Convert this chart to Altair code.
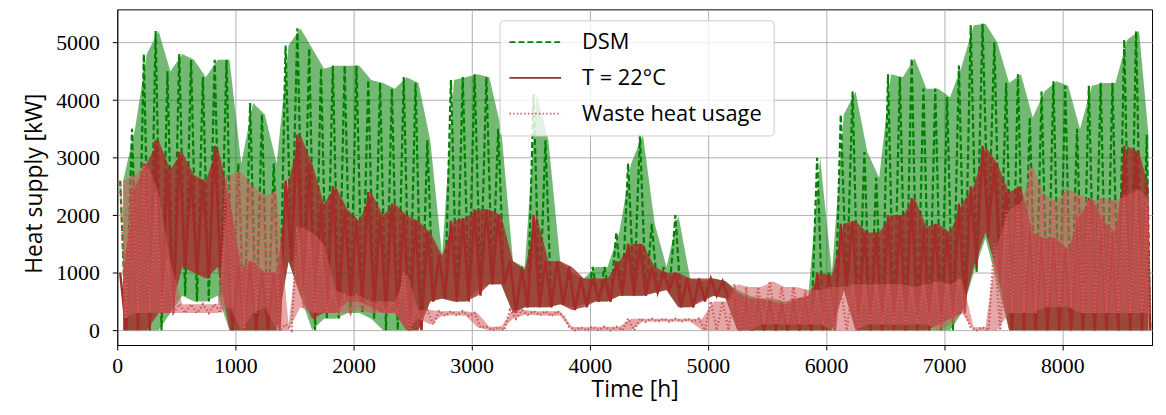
import altair as alt
import pandas as pd

# ---- data (100 h bins: upper / lower envelope of the daily swings) ----
BIN_START = list(range(0, 8760, 100))          # 88 bins
BIN_WIDTH = [100] * 87 + [60]

DSM_HI = [2600, 3500, 4800, 5200, 4500, 4800, 4700, 4400, 4700, 4700,
          2900, 3950, 3750, 2900, 4950, 5250, 4900, 4550, 4600, 4600,
          4600, 4350, 4300, 4200, 4400, 4300, 3300, 1300, 4350, 4400,
          4450, 4400, 3500, 1200, 1100, 4100, 3300, 1200, 1000, 900,
          1100, 1100, 1700, 2900, 3400, 1850, 1100, 2000, 900, 850,
          900, 850, 700, 600, 550, 550, 500, 550, 600, 3000,
          1000, 3750, 4150, 3100, 2650, 4450, 4400, 4730, 4200, 4200,
          4050, 4600, 5300, 5330, 5000, 4300, 4450, 3700, 4150, 4330,
          4250, 3500, 4250, 4300, 4300, 5050, 5200, 3400]
DSM_LO = [0, 0, 0, 0, 300, 600, 500, 500, 600, 0,
          0, 0, 0, 0, 1200, 600, 0, 200, 200, 300,
          300, 200, 0, 0, 0, 0, 500, 550, 500, 500,
          700, 800, 800, 300, 400, 400, 400, 450, 400, 450,
          500, 500, 600, 600, 600, 650, 700, 400, 400, 550,
          600, 550, 0, 0, 0, 0, 0, 0, 0, 0,
          0, 700, 0, 0, 0, 0, 0, 0, 0, 0,
          0, 300, 1000, 1600, 800, 0, 0, 0, 0, 0,
          0, 0, 0, 0, 0, 0, 0, 0]
T22_HI = [1000, 2500, 2900, 3300, 2800, 3100, 2700, 2600, 3200, 2300,
          1100, 1200, 1000, 1000, 2600, 3400, 2900, 2200, 2500, 2100,
          1900, 2400, 2000, 2200, 2000, 1900, 1700, 1300, 1900, 1950,
          2100, 2100, 2000, 1200, 1050, 2000, 1200, 1200, 1100, 900,
          900, 900, 1200, 1500, 1500, 1100, 1000, 1000, 900, 900,
          900, 850, 650, 550, 550, 500, 450, 550, 600, 1000,
          950, 1850, 1900, 1700, 1700, 2000, 2000, 2300, 1800, 1850,
          1700, 2200, 2500, 3200, 2900, 2400, 2500, 1700, 1600, 1600,
          1400, 2000, 2300, 1900, 1700, 3200, 3100, 2500]
T22_LO = [0, 0, 0, 300, 300, 1100, 1000, 900, 1100, 0,
          0, 0, 0, 0, 1200, 600, 200, 300, 300, 500,
          500, 400, 300, 300, 0, 0, 500, 550, 500, 500,
          600, 800, 800, 300, 400, 400, 400, 450, 350, 400,
          500, 500, 600, 600, 600, 650, 700, 400, 400, 500,
          600, 550, 0, 0, 0, 0, 0, 0, 0, 0,
          0, 700, 0, 0, 0, 0, 0, 0, 0, 100,
          200, 300, 1100, 1700, 1000, 0, 0, 0, 0, 0,
          0, 0, 0, 0, 0, 0, 0, 0]
WASTE_HI = [2600, 2700, 2900, 2400, 1200, 450, 450, 450, 450, 2700,
            2750, 2500, 2350, 2400, 100, 1800, 1700, 1500, 700, 600,
            600, 500, 500, 500, 1000, 350, 350, 330, 330, 330,
            300, 60, 60, 350, 350, 330, 330, 330, 60, 50,
            60, 60, 60, 200, 200, 200, 200, 200, 200, 200,
            500, 500, 800, 750, 750, 850, 750, 750, 700, 700,
            750, 750, 800, 800, 800, 800, 800, 750, 800, 850,
            800, 900, 50, 50, 1500, 2100, 2200, 2850, 2350, 2250,
            2450, 2350, 2250, 2300, 2250, 2350, 2450, 2300]
WASTE_LO = [200, 300, 300, 300, 300, 300, 300, 300, 300, 400,
            0, 300, 400, 0, 0, 400, 300, 300, 300, 300,
            350, 300, 300, 300, 0, 200, 100, 250, 260, 250,
            50, 0, 0, 200, 270, 260, 250, 250, 0, 0,
            0, 0, 0, 0, 150, 150, 150, 150, 150, 0,
            0, 0, 0, 0, 100, 100, 100, 100, 100, 100,
            0, 0, 0, 100, 100, 100, 100, 100, 100, 0,
            100, 300, 0, 0, 0, 300, 300, 300, 400, 400,
            400, 300, 300, 300, 300, 300, 300, 300]

SERIES = ["DSM", "T = 22°C", "Waste heat usage"]
COLORS = ["#008000", "#a52a2a", "#cd5c5c"]
DASHES = [[6, 3], [1, 0], [1.5, 2.2]]
X_TICKS = [0, 1000, 2000, 3000, 4000, 5000, 6000, 7000, 8000]
Y_TICKS = [0, 1000, 2000, 3000, 4000, 5000]


def zigzag(hi, lo, name):
    rows = []
    for s, w, h, l in zip(BIN_START, BIN_WIDTH, hi, lo):
        rows.append({"t": s + 0.25 * w, "v": h, "series": name})
        rows.append({"t": s + 0.75 * w, "v": l, "series": name})
    return pd.DataFrame(rows)


def band(hi, lo, name):
    return pd.DataFrame({
        "t": [s + w / 2 for s, w in zip(BIN_START, BIN_WIDTH)],
        "lo": lo, "hi": hi, "series": name})


xscale = alt.Scale(domain=[0, 8760], nice=False, zero=False)
yscale = alt.Scale(domain=[-257, 5578], nice=False, zero=False)
xaxis = alt.Axis(values=X_TICKS, format="d", title="Time [h]", labelFlush=False,
                 labelPadding=6, titleX=521, titleY=52, titleBaseline="alphabetic",
                 titleAlign="center")
yaxis = alt.Axis(values=Y_TICKS, format="d", title="Heat supply [kW]",
                 labelPadding=13, titleX=-76, titleY=175, titleBaseline="alphabetic",
                 titleAlign="center", titleAngle=270)

legend = alt.Legend(title=None, orient="none", legendX=385, legendY=11,
                    direction="vertical", symbolType="M-1.2,0H4", symbolSize=400,
                    symbolStrokeWidth=1.8, labelFont="Open Sans", labelFontSize=22,
                    labelColor="black", labelOffset=50, rowPadding=14, padding=11,
                    fillColor="rgba(255,255,255,0.8)", strokeColor="#cccccc",
                    cornerRadius=4, labelLimit=400)

color = alt.Color("series:N", scale=alt.Scale(domain=SERIES, range=COLORS), legend=legend)
dash = alt.StrokeDash("series:N", scale=alt.Scale(domain=SERIES, range=DASHES), legend=legend)

OPAC = [0.55, 0.8, 0.55]
WIDTH = [2.2, 2.4, 2.4]
layers = []
for name, hi, lo, col, op, sw in zip(SERIES, [DSM_HI, T22_HI, WASTE_HI],
                                     [DSM_LO, T22_LO, WASTE_LO], COLORS, OPAC, WIDTH):
    area = alt.Chart(band(hi, lo, name)).mark_area(color=col, opacity=op, clip=True).encode(
        x=alt.X("t:Q", scale=xscale, axis=xaxis),
        y=alt.Y("lo:Q", scale=yscale, axis=yaxis),
        y2="hi:Q",
    )
    line = alt.Chart(zigzag(hi, lo, name)).mark_line(strokeWidth=sw, clip=True).encode(
        x=alt.X("t:Q", scale=xscale, axis=xaxis),
        y=alt.Y("v:Q", scale=yscale, axis=yaxis),
        color=color,
        strokeDash=dash,
    )
    layers += [area, line]

chart = alt.layer(*layers).properties(
    width=1042, height=338,
    padding={"left": 110, "top": 0, "right": 6, "bottom": 57},
    autosize=alt.AutoSizeParams(type="none"),
).configure_view(
    stroke="black", strokeWidth=1
).configure_axis(
    grid=True, gridColor="#b0b0b0", gridWidth=1,
    domainColor="black", domainWidth=1, tickColor="black", tickSize=5, tickWidth=1,
    labelFont="Liberation Serif", labelFontSize=22, labelColor="black",
    titleFont="Open Sans", titleFontSize=23, titleFontWeight="normal", titleColor="black",
).configure_legend(strokeWidth=1, symbolStrokeWidth=1.8)

chart.save("out.html", embed_options={"renderer": "svg", "actions": False})
